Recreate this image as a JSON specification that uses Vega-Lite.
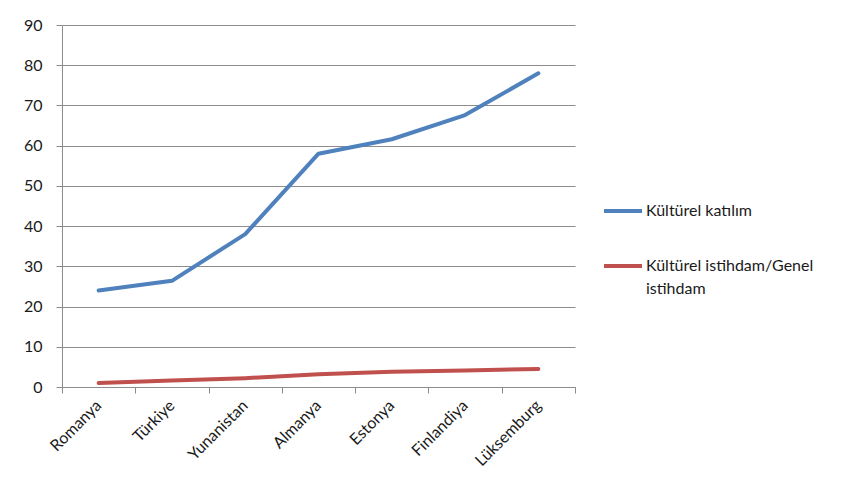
{
  "$schema": "https://vega.github.io/schema/vega-lite/v6.json",
  "autosize": {"type": "none"},
  "width": 513,
  "height": 362,
  "padding": {"left": 62, "top": 25, "right": 272, "bottom": 113},
  "background": "white",
  "data": {"values": [
    {"country": "Romanya", "series": "Kültürel katılım", "value": 24},
    {"country": "Türkiye", "series": "Kültürel katılım", "value": 26.4},
    {"country": "Yunanistan", "series": "Kültürel katılım", "value": 38},
    {"country": "Almanya", "series": "Kültürel katılım", "value": 58},
    {"country": "Estonya", "series": "Kültürel katılım", "value": 61.6},
    {"country": "Finlandiya", "series": "Kültürel katılım", "value": 67.6},
    {"country": "Lüksemburg", "series": "Kültürel katılım", "value": 78},
    {"country": "Romanya", "series": "Kültürel istihdam/Genel istihdam", "value": 1},
    {"country": "Türkiye", "series": "Kültürel istihdam/Genel istihdam", "value": 1.6},
    {"country": "Yunanistan", "series": "Kültürel istihdam/Genel istihdam", "value": 2.2},
    {"country": "Almanya", "series": "Kültürel istihdam/Genel istihdam", "value": 3.2},
    {"country": "Estonya", "series": "Kültürel istihdam/Genel istihdam", "value": 3.8},
    {"country": "Finlandiya", "series": "Kültürel istihdam/Genel istihdam", "value": 4.1},
    {"country": "Lüksemburg", "series": "Kültürel istihdam/Genel istihdam", "value": 4.5}
  ]},
  "mark": {"type": "line", "strokeWidth": 4, "strokeCap": "round", "strokeJoin": "round"},
  "encoding": {
    "x": {
      "field": "country", "type": "nominal", "sort": null,
      "scale": {"type": "band", "paddingInner": 0, "paddingOuter": 0},
      "axis": {
        "title": null, "labelAngle": -45, "labelFont": "Lato", "labelFontSize": 16,
        "labelColor": "#1a1a1a", "domainColor": "#8c8c8c", "tickColor": "#8c8c8c",
        "tickBand": "extent", "tickSize": 6, "labelPadding": 4, "labelOffset": -6, "grid": false
      }
    },
    "y": {
      "field": "value", "type": "quantitative",
      "scale": {"domain": [0, 90], "nice": false},
      "axis": {
        "title": null, "values": [0,10,20,30,40,50,60,70,80,90], "labelFont": "Lato",
        "labelFontSize": 16, "labelColor": "#1a1a1a", "domainColor": "#8c8c8c",
        "tickColor": "#8c8c8c", "tickSize": 6, "labelPadding": 14, "grid": true,
        "gridColor": "#8c8c8c", "gridOpacity": 1
      }
    },
    "color": {
      "field": "series", "type": "nominal",
      "scale": {"domain": ["Kültürel katılım", "Kültürel istihdam/Genel istihdam"], "range": ["#4F81BD", "#C0504D"]},
      "legend": {
        "title": null, "orient": "none", "legendX": 540, "legendY": 165,
        "symbolType": "stroke", "symbolSize": 1444, "symbolStrokeWidth": 4,
        "labelFont": "Lato", "labelFontSize": 16, "labelColor": "#1a1a1a",
        "rowPadding": 26, "labelOffset": 2, "labelLimit": 300,
        "labelExpr": "datum.label == 'Kültürel istihdam/Genel istihdam' ? ['Kültürel istihdam/Genel', 'istihdam'] : datum.label",
        "labelBaseline": "middle"
      }
    }
  },
  "config": {"view": {"stroke": null}, "style": {"guide-label": {"lineHeight": 23}}}
}
